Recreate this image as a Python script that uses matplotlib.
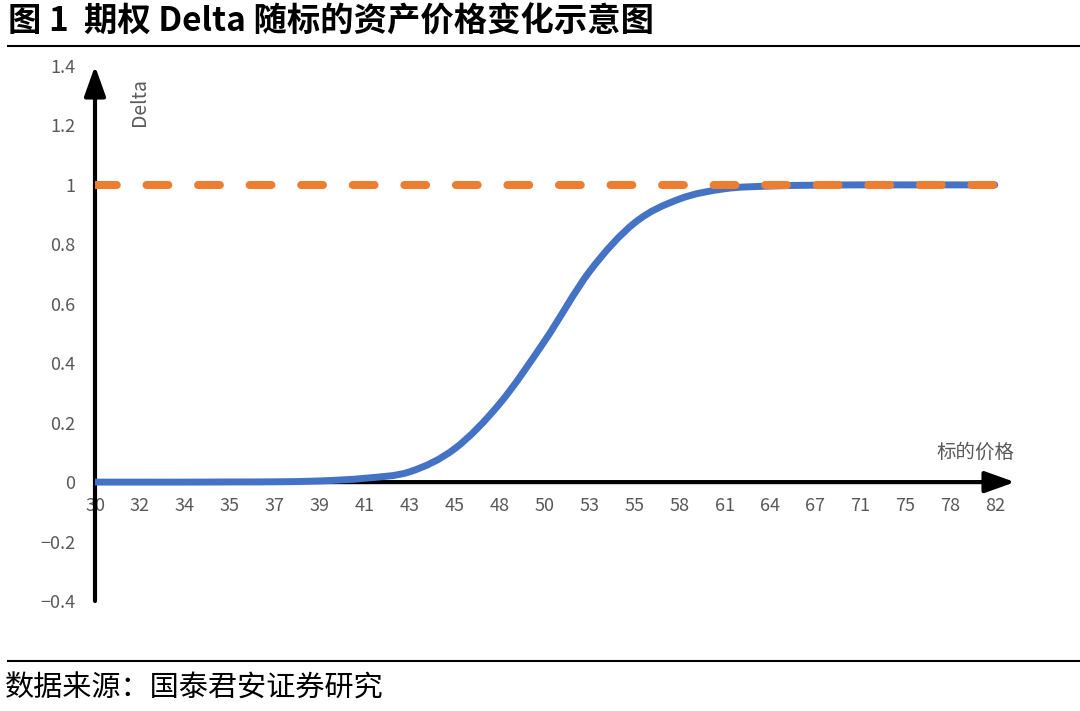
import matplotlib
matplotlib.use('Agg')
import matplotlib.pyplot as plt
from matplotlib.lines import Line2D
from matplotlib.path import Path
from matplotlib.patches import PathPatch

plt.rcParams['font.family'] = ['Noto Sans CJK SC', 'DejaVu Sans']

# 数据
prices = ['30', '32', '34', '35', '37', '39', '41', '43', '45', '48', '50',
          '53', '55', '58', '61', '64', '67', '71', '75', '78', '82']
delta = [0.0, 0.0, 0.0, 0.0005, 0.001, 0.004, 0.013, 0.035, 0.113, 0.265, 0.476,
         0.71, 0.873, 0.953, 0.987, 0.996, 0.999, 1.0, 1.0, 1.0, 1.0]
upper = [1.0] * len(prices)
yticks = [1.4, 1.2, 1.0, 0.8, 0.6, 0.4, 0.2, 0.0, -0.2, -0.4]
ylabels = ['1.4', '1.2', '1', '0.8', '0.6', '0.4', '0.2', '0', '−0.2', '−0.4']

gray = '#595959'
x = list(range(len(prices)))


def smooth_path(xs, ys):
    # 平滑折线（类似 Excel 的平滑线），Catmull-Rom 转贝塞尔
    n = len(xs)
    verts = [(xs[0], ys[0])]
    codes = [Path.MOVETO]
    for i in range(n - 1):
        i0 = max(i - 1, 0)
        i3 = min(i + 2, n - 1)
        c1 = (xs[i] + (xs[i + 1] - xs[i0]) / 6, ys[i] + (ys[i + 1] - ys[i0]) / 6)
        c2 = (xs[i + 1] - (xs[i3] - xs[i]) / 6, ys[i + 1] - (ys[i3] - ys[i]) / 6)
        verts += [c1, c2, (xs[i + 1], ys[i + 1])]
        codes += [Path.CURVE4] * 3
    return Path(verts, codes)


fig = plt.figure(figsize=(10.8, 7.11), dpi=100)
ax = fig.add_axes([95 / 1080, 110 / 711, 920 / 1080, 535 / 711])

ax.add_patch(PathPatch(smooth_path(x, delta), facecolor='none', edgecolor='#4472C4',
                       lw=5.0, capstyle='round', joinstyle='round', zorder=3))
ax.plot(x, upper, color='#ED7D31', lw=5.8, ls=(0, (2.7, 3.7)),
        dash_capstyle='round', zorder=4)

ax.set_xlim(0, 20.45)
ax.set_ylim(-0.4, 1.4)

for s in ax.spines.values():
    s.set_color('none')
ax.spines['bottom'].set_position(('data', 0))

ax.set_xticks(x)
ax.set_xticklabels(prices)
ax.set_yticks(yticks)
ax.set_yticklabels(ylabels)
ax.tick_params(axis='x', length=0, pad=11, labelsize=13, colors=gray)
ax.tick_params(axis='y', length=0, pad=14, labelsize=13, colors=gray)

# 坐标轴箭头
arrow = dict(arrowstyle='-|>,head_length=0.7,head_width=0.25', lw=3,
             color='black', shrinkA=0, shrinkB=0, mutation_scale=26)
ax.annotate('', xy=(20.45, 0), xytext=(0, 0), arrowprops=arrow,
            annotation_clip=False, zorder=2)
ax.annotate('', xy=(0, 1.4), xytext=(0, -0.4), arrowprops=arrow,
            annotation_clip=False, zorder=2)

ax.text(1.0, 1.28, 'Delta', rotation=90, ha='center', va='center',
        fontsize=14, color=gray)
ax.text(18.7, 0.10, '标的价格', ha='left', va='center', fontsize=14, color=gray)

# 标题与来源
fig.text(8 / 1080, 1 - 22 / 711, '图 1  期权 Delta 随标的资产价格变化示意图',
         fontsize=24, fontweight='bold', va='center', ha='left')
fig.add_artist(Line2D([8 / 1080, 1], [1 - 46 / 711] * 2, color='black', lw=1.5))
fig.add_artist(Line2D([8 / 1080, 1], [1 - 661 / 711] * 2, color='black', lw=1.5))
fig.text(5 / 1080, 1 - 689 / 711, '数据来源：国泰君安证券研究',
         fontsize=21, va='center', ha='left')

fig.savefig('out.png', dpi=100)
